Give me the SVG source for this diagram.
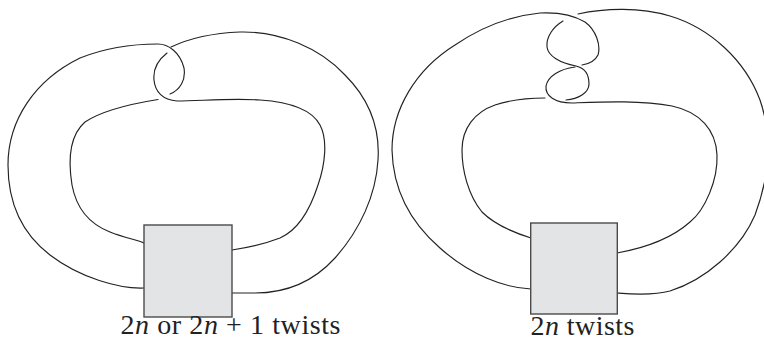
<svg xmlns="http://www.w3.org/2000/svg" width="764" height="341" viewBox="0 0 764 341">
<style>
.s{fill:none;stroke:#222;stroke-width:1.15;stroke-linecap:round}
.box{fill:#e3e4e6;stroke:#4a4a4a;stroke-width:1.4}
.lbl{font-family:"Liberation Serif","Times New Roman",serif;font-size:28px;fill:#222}
.it{font-style:italic}
</style>
<g id="connectors">
<!-- left knot -->
<path class="s" d="M144,288 C120,289 80,278 50,255 C20,232 8,200 8,165 C8,120 35,80 80,58 C105,48 135,44 158,44 C168,44 180,52 184,68 C186,80 180,90 170,94"/>
<path class="s" d="M158,99.5 C130,104 100,112 85,122 C70,135 68,160 72,185 C77,212 92,225 110,232 C125,238 138,240 144,243"/>
<path class="s" d="M171,47 C190,38 215,33 240,32 C280,31 320,48 345,75 C370,100 380,130 378,160 C376,195 360,230 335,258 C315,280 290,293 255,293 C245,293 238,293 232,293"/>
<path class="s" d="M167,53 C158,60 153,70 154,80 C155,92 163,100 177,101 C200,101 230,98 260,100 C290,102 312,110 320,125 C328,140 325,165 318,185 C310,210 298,230 280,238 C262,245 245,248 232,250"/>
<!-- right knot -->
<path class="s" d="M531,289 C505,288 470,275 440,248 C410,222 393,190 392,150 C392,110 415,70 455,45 C480,28 510,16 540,13 C560,12 575,16 585,22 C596,30 601,45 598,55 C595,61 589,64 582,65"/>
<path class="s" d="M563,21 C553,27 546,37 547,47 C548,56 560,63 576,66 C585,68 589,75 589,84 C589,93 578,99 566,100"/>
<path class="s" d="M575,67 C560,69 548,76 546,86 C545,96 555,103 572,103 C600,102 640,100 672,106 C700,112 716,130 717,155 C718,180 705,210 690,222 C672,238 645,248 617,253"/>
<path class="s" d="M531,238 C515,233 495,225 482,212 C468,195 462,170 462,150 C462,128 475,112 495,105 C510,100 528,98 545,98"/>
<path class="s" d="M578,14 C605,8 640,7 670,16 C710,28 745,60 760,100 C772,135 770,175 755,215 C740,250 705,280 670,291 C652,296 630,294 617,293"/>
</g>
<g id="box-left">
<rect class="box" x="144" y="225" width="88" height="92"/>
</g>
<g id="box-right">
<rect class="box" x="530.7" y="223" width="86.6" height="91"/>
</g>
<g id="label-left">
<text class="lbl" x="120.5" y="334" textLength="220" lengthAdjust="spacing">2<tspan class="it">n</tspan> or 2<tspan class="it">n</tspan> + 1 twists</text>
</g>
<g id="label-right">
<text class="lbl" x="530.5" y="335" textLength="104" lengthAdjust="spacing">2<tspan class="it">n</tspan> twists</text>
</g>
</svg>
